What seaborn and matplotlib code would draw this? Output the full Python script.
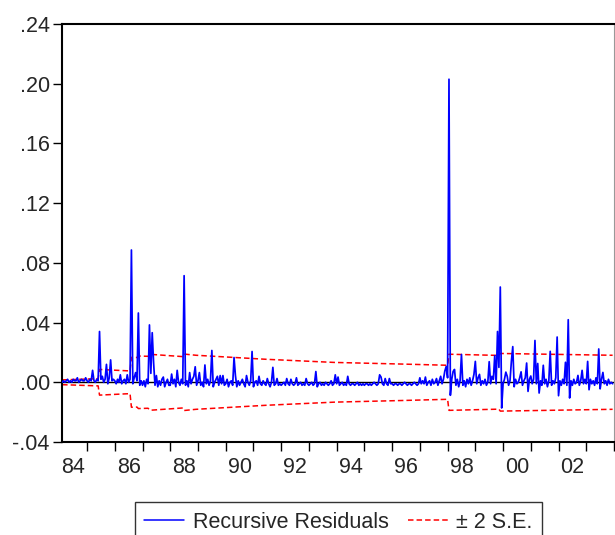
import numpy as np
import pandas as pd
import matplotlib
matplotlib.use("Agg")
import matplotlib.pyplot as plt
import seaborn as sns
from matplotlib.lines import Line2D
from matplotlib.ticker import FixedLocator, FuncFormatter

# Recursive residuals in thousandths, twenty observations per year.
# The 1984 block starts at 1984.10; every other block covers the full year.
res_1984 = [0, 1, 0, 1, 2, 0, 1, 0, 2, 1, 1, 3, 0, 1, 2, 1, 1, 3]
res_1985 = [1, 0, 2, 1, 8, 1, 0, 2, 1, 34, 2, 4, 0, 2, 12, -1, 3, 15, 1, 2]
res_1986 = [1, -1, 2, 0, 5, -1, 1, 2, -1, 5, 0, 2, 88.6, -1, 3, 6.5, 1, 46.4, -2, 1]
res_1987 = [-2, 1, -3, 2, -1, 38.4, 6, 33.2, 13, -2, 4.5, -3, 1, -2, 2, 3.5, -3, 0, 2, -2]
res_1988 = [-2, 5.5, -1, 2, -3, 8, 0, -2, 2, -1, 71.4, -2, 1, -3, 6.5, -1, 2, 4, 10.4, -2]
res_1989 = [1, 6.5, -2, 0, -3, 11.6, -1, 2, -2, 1, 21.3, -3, 0, 2, 4, -2, 4.5, -1, 4.5, -2]
res_1990 = [-1, 2, -3, 0, 1, -2, 16.6, 4.5, -3, 1, -2, 0, 2, -1, -3, 4.5, 0, -2, 1, 20.6]
res_1991 = [-3, 0, 1, -2, 4, -1, -2, 1, -1, -2, 2.5, -1, -3, 0, 10, -2, -1, 2.5, -2, -1]
res_1992 = [-2, -1, 0, -2, 2.5, -1, -2, 2, -1, -2, -1, 3, -2, -1, 0, -2, -1, -2, 2.5, -1]
res_1993 = [-2, -1, 0, -2, -1, 7.2, -3, -1, 0, -2, -1, -2, 0, -1, -2, -1, 1, -2, -1, 5]
res_1994 = [-1, 3.5, -2, -1, 0, -2, -1, -2, 4, -1, -2, -1, -1, -2, -1, 0, -2, -1, -2, -1]
res_1995 = [-2, -1, -1, -2, -1, -2, -1, 0, -1, -2, -1, 5, 3.5, -1, -2, 2.5, -1, -2, 2.5, -1]
res_1996 = [-1, -2, -1, -1, -2, -1, -1, -2, -1, 0, -1, -2, -1, -1, -2, -1, 0, -1, -2, -1]
res_1997 = [3, -1, 1, -1, 3.5, -2, 0, 1, -2, 2, -1, 0, 2.5, -2, 1, 4, -1, 2, 7.5, 10.6]
res_1998 = [3, 203, -8.7, 2, 7.3, 8.6, -2, 2, -3, 1, 18.6, -2, 1, -3, 2, -1, 3, -2, 1, 5.3]
res_1999 = [14, -1, 3, 5.3, -2, 1, -1, 2, -2, 0, 13.8, -1, 4, 2, 17.8, -1, 34, 10, 63.8, -17.2]
res_2000 = [-1, 2, 6.8, 4, -2, 1, 14, 23.9, -3, 2, -1, 0, 3, 7, -2, 1, 3, 12.9, -6.1, 2]
res_2001 = [4.2, -1, 2, 28, -1, 12.6, -7.2, 1, -2, 11.4, -1, 2, -3, 1, 20.7, -2, 1, -1, 3, 30.3]
res_2002 = [-9, 1, -2, 2, -1, 13.4, -2, 41.9, -10.5, 1, -2, 2, -1, 0, 4.6, -2, 1, 8, -1, 2]
res_2003 = [-1, 14, -5, 2, -1, 1, -2, 3, -1, 22.3, -4.4, 2, 6.6, -1, 1, -2, 2, -1, 0, -1]

res_years = list(range(1984, 2004))
res_blocks = [res_1984, res_1985, res_1986, res_1987, res_1988, res_1989, res_1990,
              res_1991, res_1992, res_1993, res_1994, res_1995, res_1996, res_1997,
              res_1998, res_1999, res_2000, res_2001, res_2002, res_2003]

# Two standard errors (thousandths) at the dates where the band changes course
se_dates = [1984.10, 1985.40, 1985.45, 1986.55, 1986.60, 1986.80, 1986.85,
            1987.20, 1987.25, 1987.30, 1988.45, 1988.50, 1988.93, 1991.46,
            1993.92, 1996.37, 1998.00, 1998.05, 1999.85, 1999.90, 2003.95]
se_values = [1.6, 2.4, 8.6, 7.6, 16.7, 16.6, 17.6,
             17.4, 18.4, 18.7, 17.2, 18.9, 18.1, 15.4,
             13.3, 12.2, 11.4, 18.8, 18.0, 19.3, 18.1]

y_ticks = [-0.04, 0.00, 0.04, 0.08, 0.12, 0.16, 0.20, 0.24]
label_years = list(range(1984, 2004, 2))

# ---- assemble the frames ----
dates, resid = [], []
for yr, blk in zip(res_years, res_blocks):
    first = 20 - len(blk)
    for k, val in enumerate(blk):
        dates.append(yr + (first + k) / 20)
        resid.append(val / 1000)
res_df = pd.DataFrame({"date": dates, "resid": resid})
se_df = pd.DataFrame({"date": se_dates,
                      "upper": np.array(se_values) / 1000,
                      "lower": -np.array(se_values) / 1000})

FS = 15.5
sns.set_style("white")
plt.rcParams["font.family"] = ["Liberation Sans", "DejaVu Sans"]
plt.rcParams["font.size"] = FS

fig = plt.figure(figsize=(6.15, 5.35), dpi=100)
ax = fig.add_axes([62 / 615, 93 / 535, 552 / 615, 418 / 535])

ax.axhline(0, color="black", lw=1.0, zorder=1)
sns.lineplot(data=res_df, x="date", y="resid", color="#0000ff", lw=1.25,
             estimator=None, ax=ax, zorder=3)
dash = (0, (3.6, 2.0))
sns.lineplot(data=se_df, x="date", y="upper", color="#ff0000", lw=1.1,
             linestyle=dash, estimator=None, ax=ax, zorder=2)
sns.lineplot(data=se_df, x="date", y="lower", color="#ff0000", lw=1.1,
             linestyle=dash, estimator=None, ax=ax, zorder=2)

ax.set_xlim(1984.097, 2004.0)
ax.set_ylim(-0.04, 0.24)
ax.set_xlabel("")
ax.set_ylabel("")

# y axis: EViews-style labels without the leading zero
ax.yaxis.set_major_locator(FixedLocator(y_ticks))
ax.yaxis.set_major_formatter(FuncFormatter(
    lambda v, _: ("-" if v < -1e-9 else "") + f"{abs(v):.2f}".lstrip("0")))
ax.tick_params(axis="y", which="major", direction="out", length=6.3, width=1.0,
               pad=2.5, labelsize=FS, color="black", left=True)

# x axis: a tick at every year boundary, labels centred on even years
ax.xaxis.set_major_locator(FixedLocator(list(range(1985, 2005))))
ax.xaxis.set_major_formatter(FuncFormatter(lambda v, _: ""))
ax.xaxis.set_minor_locator(FixedLocator([y + 0.5 for y in label_years]))
ax.xaxis.set_minor_formatter(FuncFormatter(lambda v, _: f"{int(v) % 100:02d}"))
ax.tick_params(axis="x", which="major", direction="out", length=6.5, width=1.0,
               color="black", bottom=True)
ax.tick_params(axis="x", which="minor", length=0, pad=11, labelsize=FS, bottom=True)

for side in ("left", "top", "bottom"):
    ax.spines[side].set_color("black")
    ax.spines[side].set_linewidth(1.5)
ax.spines["right"].set_color("#999999")
ax.spines["right"].set_linewidth(0.8)

handles = [Line2D([], [], color="#0000ff", lw=1.1),
           Line2D([], [], color="#ff0000", lw=1.1, linestyle=dash)]
leg = fig.legend(handles, ["Recursive Residuals", "\u00b1 2 S.E."],
                 loc="upper center", bbox_to_anchor=(338.5 / 615, 33 / 535),
                 ncol=2, frameon=True, fancybox=False, fontsize=FS,
                 handlelength=1.86, handletextpad=0.4, columnspacing=0.88,
                 borderpad=0.45, borderaxespad=0)
leg.get_frame().set_edgecolor("black")
leg.get_frame().set_linewidth(1.0)

fig.savefig("out.png", dpi=100)
